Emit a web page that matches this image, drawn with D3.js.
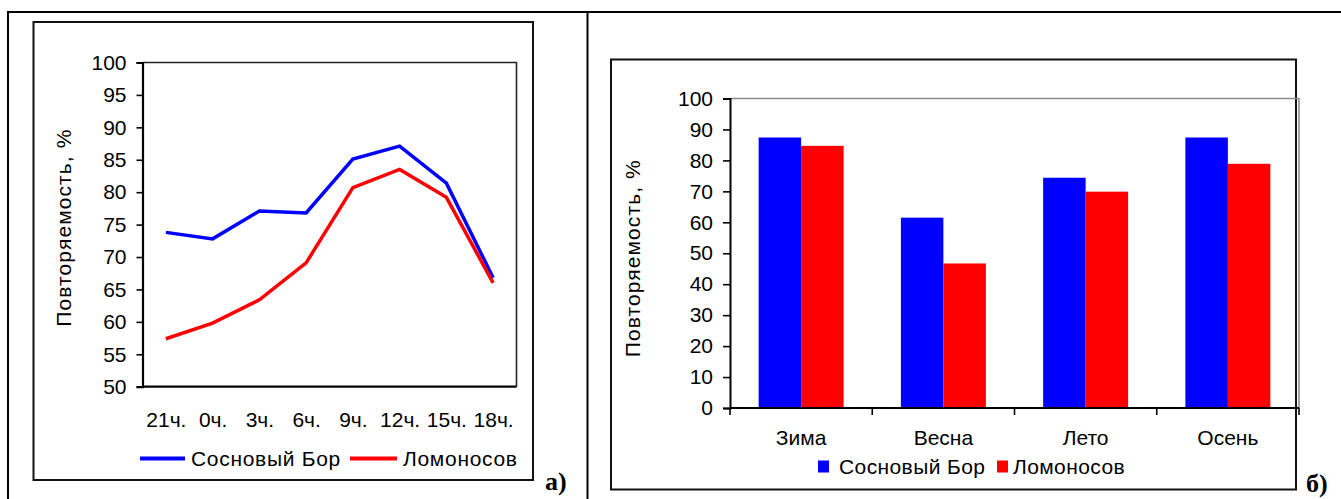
<!DOCTYPE html>
<html>
<head>
<meta charset="utf-8">
<script src="https://cdn.jsdelivr.net/npm/d3@7"></script>
<style>
  html, body { margin: 0; padding: 0; background: #fff; }
  svg { display: block; }
  text { font-family: "Liberation Sans", Arial, sans-serif; fill: #000; }
</style>
</head>
<body>
<svg id="chart" width="1341" height="499"></svg>
<script>
// ---------- DATA ----------
const hours = ["21ч.", "0ч.", "3ч.", "6ч.", "9ч.", "12ч.", "15ч.", "18ч."];
const sosnovyBorHourly = [73.8, 72.8, 77.1, 76.8, 85.1, 87.1, 81.4, 66.8];
const lomonosovHourly  = [57.4, 59.8, 63.4, 69.1, 80.7, 83.5, 79.2, 66.0];

const seasons = ["Зима", "Весна", "Лето", "Осень"];
const sosnovyBorSeasonal = [87.4, 61.5, 74.4, 87.4];
const lomonosovSeasonal  = [84.7, 46.7, 69.9, 78.9];

const seriesNames = ["Сосновый Бор", "Ломоносов"];
const seriesColors = ["#0000FF", "#FF0000"];
const yTitle = "Повторяемость, %";
const lineTicks = [50, 55, 60, 65, 70, 75, 80, 85, 90, 95, 100];
const barTicks = [0, 10, 20, 30, 40, 50, 60, 70, 80, 90, 100];
const panelLabels = ["а)", "б)"];

// ---------- SETUP ----------
const svg = d3.select("#chart");
const FS = 21;

// outer table lines
svg.append("line").attr("x1", 8).attr("x2", 1341).attr("y1", 12).attr("y2", 12)
  .attr("stroke", "#000").attr("stroke-width", 2);
svg.append("line").attr("x1", 8).attr("x2", 8).attr("y1", 11).attr("y2", 499)
  .attr("stroke", "#000").attr("stroke-width", 2);
svg.append("line").attr("x1", 587.5).attr("x2", 587.5).attr("y1", 11).attr("y2", 499)
  .attr("stroke", "#000").attr("stroke-width", 2);

// ================= LEFT: line chart =================
{
  const g = svg.append("g");
  g.append("rect").attr("x", 33.5).attr("y", 22).attr("width", 499.5).attr("height", 458)
    .attr("fill", "none").attr("stroke", "#111").attr("stroke-width", 2);

  const L = 142.5, R = 516.5, T = 62.5, B = 386.7;
  const x = d3.scalePoint().domain(hours).range([L, R]).padding(0.5);
  const y = d3.scaleLinear().domain([50, 100]).range([B, T]);

  g.append("path").attr("d", `M${L},${T}H${R}V${B}`)
    .attr("fill", "none").attr("stroke", "#222").attr("stroke-width", 1.6);

  const ya = g.append("g").attr("transform", `translate(${L},0)`)
    .call(d3.axisLeft(y).tickValues(lineTicks).tickSize(6).tickPadding(10));
  ya.select(".domain").attr("stroke", "#000").attr("stroke-width", 2.2);
  ya.selectAll(".tick line").attr("stroke", "#000").attr("stroke-width", 1.6);
  ya.selectAll(".tick text").style("font-size", FS + "px").style("font-family", "Liberation Sans, Arial, sans-serif").attr("fill", "#000");

  const xa = g.append("g").attr("transform", `translate(0,${B})`)
    .call(d3.axisBottom(x).tickSize(0).tickPadding(25));
  xa.select(".domain").attr("d", `M${L},0H${R}`).attr("stroke", "#000").attr("stroke-width", 2.2);
  xa.selectAll(".tick text").style("font-size", FS + "px").style("font-family", "Liberation Sans, Arial, sans-serif").attr("fill", "#000");

  const line = d3.line().x((d, i) => x(hours[i])).y(d => y(d));
  [sosnovyBorHourly, lomonosovHourly].forEach((s, k) => {
    g.append("path").datum(s).attr("d", line).attr("fill", "none")
      .attr("stroke", seriesColors[k]).attr("stroke-width", 3.5).attr("stroke-linejoin", "miter");
  });

  g.append("text").attr("transform", `translate(63,${(T + B) / 2 + 3}) rotate(-90)`)
    .attr("text-anchor", "middle").attr("dominant-baseline", "central")
    .style("font-size", FS + "px").style("letter-spacing", "1.1px").text(yTitle);

  const ly = 458.5;
  const leg = [{x1: 140, x2: 185, tx: 191}, {x1: 350, x2: 397, tx: 403}];
  seriesNames.forEach((n, k) => {
    g.append("line").attr("x1", leg[k].x1).attr("x2", leg[k].x2).attr("y1", ly).attr("y2", ly)
      .attr("stroke", seriesColors[k]).attr("stroke-width", 4);
    g.append("text").attr("x", leg[k].tx).attr("y", ly).attr("dominant-baseline", "central")
      .style("font-size", FS + "px").style("letter-spacing", "0.7px").text(n);
  });

  svg.append("text").attr("x", 545).attr("y", 490)
    .style("font-family", "Liberation Serif, Times New Roman, serif").style("font-weight", "bold")
    .style("font-size", "26px").text(panelLabels[0]);
}

// ================= RIGHT: bar chart =================
{
  const g = svg.append("g");
  g.append("rect").attr("x", 611).attr("y", 59.5).attr("width", 685).attr("height", 430)
    .attr("fill", "none").attr("stroke", "#111").attr("stroke-width", 2);

  const L = 730, R = 1299, T = 98.5, B = 408;
  const x0 = d3.scaleBand().domain(seasons).range([L, R]).padding(0);
  const x1 = d3.scaleBand().domain(seriesNames).range([0, x0.bandwidth()])
    .paddingInner(0).paddingOuter(0.674);
  const y = d3.scaleLinear().domain([0, 100]).range([B, T]);

  g.append("path").attr("d", `M${L},${T}H${R}V${B}`)
    .attr("fill", "none").attr("stroke", "#8c8c8c").attr("stroke-width", 1.6);

  const vals = [sosnovyBorSeasonal, lomonosovSeasonal];
  seasons.forEach((s, i) => {
    seriesNames.forEach((n, k) => {
      g.append("rect")
        .attr("x", x0(s) + x1(n))
        .attr("y", y(vals[k][i]))
        .attr("width", x1.bandwidth())
        .attr("height", B - y(vals[k][i]))
        .attr("fill", seriesColors[k]);
    });
  });

  const ya = g.append("g").attr("transform", `translate(${L},0)`)
    .call(d3.axisLeft(y).tickValues(barTicks).tickSize(7).tickPadding(10));
  ya.select(".domain").attr("stroke", "#000").attr("stroke-width", 2);
  ya.selectAll(".tick line").attr("stroke", "#000").attr("stroke-width", 1.6);
  ya.selectAll(".tick text").style("font-size", FS + "px").style("font-family", "Liberation Sans, Arial, sans-serif").attr("fill", "#000");

  const xa = g.append("g").attr("transform", `translate(0,${B})`)
    .call(d3.axisBottom(x0).tickSize(0).tickPadding(22));
  xa.select(".domain").attr("d", `M${L},0H${R}`).attr("stroke", "#000").attr("stroke-width", 2.2);
  xa.selectAll(".tick text").style("font-size", FS + "px").style("font-family", "Liberation Sans, Arial, sans-serif").attr("fill", "#000");
  const bounds = seasons.map(s => x0(s)).concat([x0(seasons[seasons.length - 1]) + x0.bandwidth()]);
  xa.selectAll(".bt").data(bounds).enter().append("line")
    .attr("x1", d => d).attr("x2", d => d).attr("y1", 0).attr("y2", 7)
    .attr("stroke", "#000").attr("stroke-width", 1.6);

  g.append("text").attr("transform", `translate(632,${(T + B) / 2 + 5}) rotate(-90)`)
    .attr("text-anchor", "middle").attr("dominant-baseline", "central")
    .style("font-size", FS + "px").style("letter-spacing", "1.1px").text(yTitle);

  const ly = 466.5;
  const leg = [{sx: 818, tx: 839}, {sx: 997, tx: 1013}];
  seriesNames.forEach((n, k) => {
    g.append("rect").attr("x", leg[k].sx).attr("y", ly - 6).attr("width", 11).attr("height", 12)
      .attr("fill", seriesColors[k]);
    g.append("text").attr("x", leg[k].tx).attr("y", ly).attr("dominant-baseline", "central")
      .style("font-size", FS + "px").style("letter-spacing", "0.4px").text(n);
  });

  svg.append("text").attr("x", 1306).attr("y", 492)
    .style("font-family", "Liberation Serif, Times New Roman, serif").style("font-weight", "bold")
    .style("font-size", "26px").text(panelLabels[1]);
}
</script>
</body>
</html>
